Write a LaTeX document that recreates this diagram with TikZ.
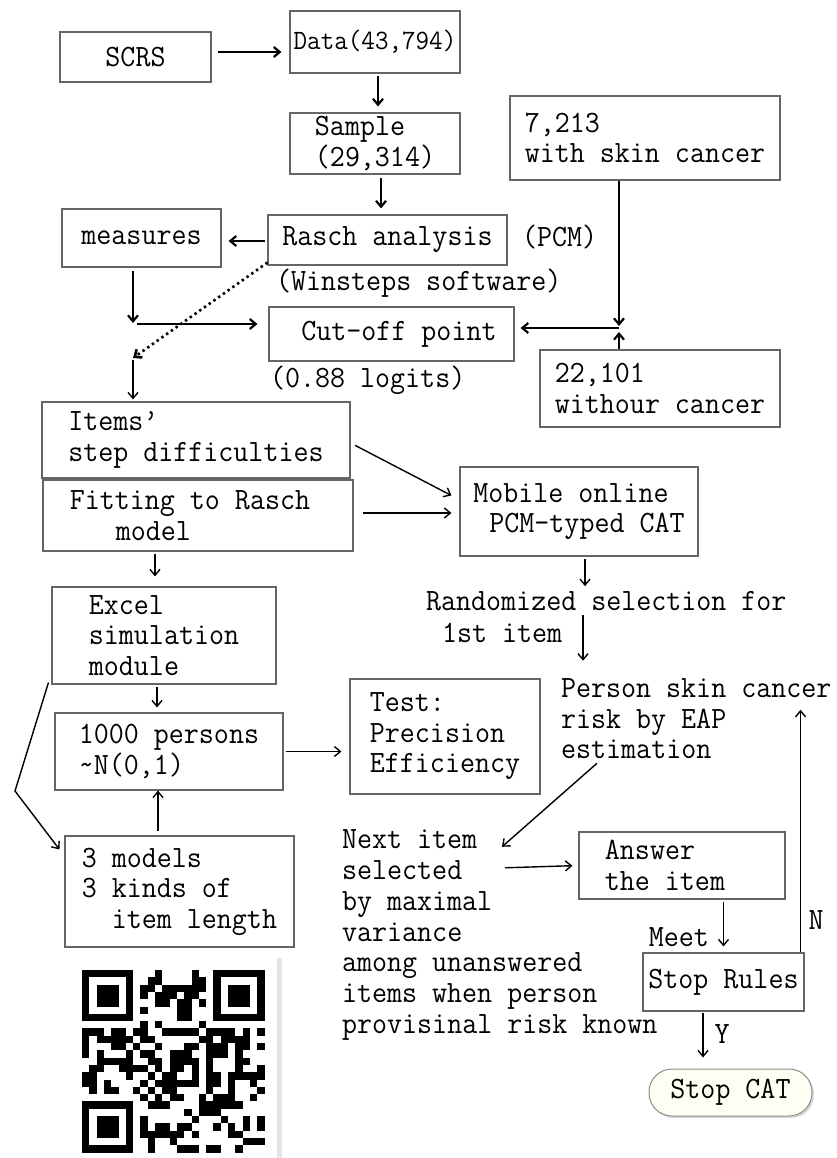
\documentclass[tikz,border=0pt]{standalone}
\usepackage{fontspec}
\setmainfont{Latin Modern Mono}[FakeStretch=0.94]
\usetikzlibrary{arrows.meta,shadows}
\begin{document}
\begin{tikzpicture}[x=1pt,y=-1pt,>={Straight Barb[length=6pt,width=10pt]}]
	\def \txtfont{\fontsize{31}{30.5}\selectfont}
	\def \qrcell{7.3}
	\tikzstyle{box}=[rectangle,draw=black!60,line width=1.1pt,inner sep=0pt,align=left,font=\txtfont]
	\tikzstyle{note}=[inner sep=0pt,align=left,font=\txtfont]
	\tikzstyle{thick-line}=[line width=2.2pt]
	\tikzstyle{thin-line}=[line width=1.4pt]
	\tikzstyle{dot-line}=[line width=2.6pt,dash pattern=on 2.4pt off 3.4pt]
	\tikzstyle{end-node}=[rectangle,rounded corners=23pt,draw=black!45,line width=1pt,fill=yellow!5,drop shadow={shadow xshift=2pt,shadow yshift=-2pt,opacity=0.3},minimum width=163pt,minimum height=47pt,font=\txtfont]

	\useasboundingbox (0,0) rectangle (837,1158);
	\fill[white] (0,0) rectangle (837,1158);

	% data
	\node[box,minimum width=151pt,minimum height=50pt] (scrs) at (135.5,57) {SCRS};
	\node[box,minimum width=170pt,minimum height=62pt,font=\fontsize{28}{30}\selectfont] (data) at (375,42) {Data(43,794)};
	\node[box,minimum width=170pt,minimum height=61pt] (sample) at (375,143.5) {Sample\\(29,314)};
	\node[box,minimum width=270pt,minimum height=84pt] (skin) at (645,138) {7,213\\with skin cancer};

	% rasch analysis
	\node[box,minimum width=239pt,minimum height=50pt] (rasch) at (387.5,240) {Rasch analysis};
	\node[note,anchor=west] (pcm) at (522,237) {(PCM)};
	\node[note,anchor=west] (winsteps) at (276,283) {(Winsteps software)};
	\node[box,minimum width=159pt,minimum height=58pt] (measures) at (141.5,238) {measures};
	\node[box,minimum width=245pt,minimum height=54pt] (cutoff) at (391.5,334) {\hspace*{15pt}Cut-off point};
	\node[note,anchor=west] (logits) at (270,380) {(0.88 logits)};
	\node[box,minimum width=240pt,minimum height=77pt] (nocancer) at (660,388.5) {22,101\\withour cancer};

	% items and cat
	\node[box,minimum width=308pt,minimum height=76pt] (items) at (196,440) {Items’\\step difficulties};
	\node[box,minimum width=310pt,minimum height=71pt] (fitting) at (198,515.5) {Fitting to Rasch\hspace*{16pt}\\\hspace*{46pt}model};
	\node[box,minimum width=238pt,minimum height=89pt] (mobile) at (579,511.5) {Mobile online\\\hspace*{16pt}PCM-typed CAT};
	\node[note,anchor=west,font=\fontsize{31}{32}\selectfont] (randsel) at (426,617) {Randomized selection for\\\hspace*{16pt}1st item};

	% simulation
	\node[box,minimum width=224pt,minimum height=97pt] (excel) at (164,635.5) {Excel\\simulation\\module};
	\node[box,minimum width=228pt,minimum height=77pt] (persons) at (169,751.5) {1000 persons\\\textasciitilde N(0,1)};
	\node[box,minimum width=190pt,minimum height=115pt] (test) at (445,736.5) {Test:\\Precision\\Efficiency};
	\node[box,minimum width=229pt,minimum height=111pt] (models) at (179.5,891.5) {3 models\\3 kinds of\\\hspace*{30pt}item length};

	% cat loop
	\node[note,anchor=west] (person) at (561,719) {Person skin cancer\\risk by EAP\\estimation};
	\node[note,anchor=west,font=\fontsize{31}{30.7}\selectfont] (nextitem) at (342,935) {Next item\\selected\\by maximal\\variance\\among unanswered\\items when person\\provisinal risk known};
	\node[box,minimum width=206pt,minimum height=67pt] (answer) at (682,865.5) {Answer\\the item\hspace*{34pt}};
	\node[note,anchor=east] (meet) at (709,937) {Meet};
	\node[box,minimum width=161pt,minimum height=58pt] (stoprules) at (723.5,982) {Stop Rules};
	\node[note] (nlabel) at (816,920) {N};
	\node[note] (ylabel) at (722,1034) {Y};
	\node[end-node] (stopcat) at (730.5,1092.5) {Stop CAT};

	\coordinate (mj) at (133,324);
	\coordinate (dj) at (133,358);
	\coordinate (cj) at (619,328);
	\coordinate (bend) at (15,791);

	% connectors
	\draw[thick-line,->,shorten <=6pt,shorten >=8pt] ([yshift=5pt]scrs.east) -- ([yshift=-10pt]data.west);
	\draw[thick-line,->,shorten <=2pt,shorten >=6pt] ([xshift=3pt]data.south) -- ([xshift=3pt]sample.north);
	\draw[thick-line,->,shorten <=3pt,shorten >=6pt] ([xshift=6pt]sample.south) -- ([xshift=-6.5pt]rasch.north);
	\draw[thick-line,->,shorten <=2pt,shorten >=7pt] ([yshift=-1pt]rasch.west) -- ([yshift=-3pt]measures.east);
	\draw[thick-line,->,shorten <=3pt,shorten >=1pt] (measures.south -| mj) -- (mj);
	\draw[thick-line,->,shorten <=4pt,shorten >=11pt] (mj) -- (mj -| cutoff.west);
	\draw[dot-line,->] ([yshift=3pt]rasch.south west) -- (dj);
	\draw[thin-line,->,shorten <=2pt,shorten >=2pt] (dj) -- (dj |- items.north);
	\draw[thick-line,->,shorten >=2pt] (skin.south -| cj) -- (cj);
	\draw[thick-line,->,shorten >=4pt] (nocancer.north -| cj) -- (cj);
	\draw[thick-line,->,shorten >=6pt] (cj) -- (cj -| cutoff.east);

	\draw[thin-line,->,shorten <=5pt] ([yshift=-3pt]items.east) -- ([shift={(-8,-16)}]mobile.west);
	\draw[thin-line,->,shorten <=9pt,shorten >=8pt] ([yshift=2.5pt]fitting.east) -- ([yshift=2.5pt]fitting.east -| mobile.west);
	\draw[thin-line,->,shorten <=2pt,shorten >=10pt] ([xshift=-43pt]fitting.south) -- ([xshift=-43pt]fitting.south |- excel.north);
	\draw[thin-line,->,shorten <=2pt,shorten >=5pt] ([xshift=6pt]mobile.south) -- ([xshift=6pt]mobile.south |- randsel.north);
	\draw[thin-line,->,shorten <=-2pt,shorten >=18pt] ([xshift=4pt]mobile.south |- randsel.east) -- ([xshift=4pt]mobile.south |- person.north);
	\draw[thin-line,->] ([shift={(36,4)}]person.south west) -- ([shift={(160,17)}]nextitem.north west);
	\draw[thin-line,->,shorten >=6pt] ([shift={(163,38)}]nextitem.north west) -- (answer.west);
	\draw[thin-line,->,shorten <=2pt,shorten >=6pt] (stoprules.north |- answer.south) -- (stoprules.north);
	\draw[thin-line,->,shorten >=31pt] ([xshift=-4pt]stoprules.north east) -- ([xshift=-4pt]stoprules.north east |- person.north);
	\draw[thin-line,->,shorten <=1pt,shorten >=11pt] ([xshift=-20.5pt]stoprules.south) -- ([xshift=-20.5pt]stoprules.south |- stopcat.north);

	\draw[thin-line,->] ([shift={(-3,-2)}]excel.south west) -- (bend) -- ([shift={(-5,14)}]models.north west);
	\draw[thin-line,->,shorten <=2pt,shorten >=5pt] ([xshift=-7pt]excel.south) -- ([xshift=-7pt]excel.south |- persons.north);
	\draw[thin-line,->,shorten <=2pt,shorten >=8pt] (persons.east) -- (persons.east -| test.west);
	\draw[thin-line,->,shorten <=4pt] ([xshift=-21.5pt]models.north) -- ([xshift=-21.5pt]models.north |- persons.south);

	% qr code
	\fill[black!10] (277,958) rectangle (282,1158);
	\begin{scope}[shift={(82,970)}]
		\pgfmathsetseed{4}
		\foreach \i in {0,...,24}{
			\foreach \j in {0,...,24}{
				\pgfmathrandominteger{\bit}{0}{1}
				\ifnum\bit=1 \fill (\i*\qrcell,\j*\qrcell) rectangle ++(\qrcell,\qrcell); \fi
			}
		}
		\foreach \cx/\cy/\fx/\fy in {0/0/0/0,17/0/18/0,0/17/0/18}{
			\fill[white] (\cx*\qrcell,\cy*\qrcell) rectangle ++(8*\qrcell,8*\qrcell);
			\fill (\fx*\qrcell,\fy*\qrcell) rectangle ++(7*\qrcell,7*\qrcell);
			\fill[white] (\fx*\qrcell+\qrcell,\fy*\qrcell+\qrcell) rectangle ++(5*\qrcell,5*\qrcell);
			\fill (\fx*\qrcell+2*\qrcell,\fy*\qrcell+2*\qrcell) rectangle ++(3*\qrcell,3*\qrcell);
		}
	\end{scope}
\end{tikzpicture}
\end{document}
